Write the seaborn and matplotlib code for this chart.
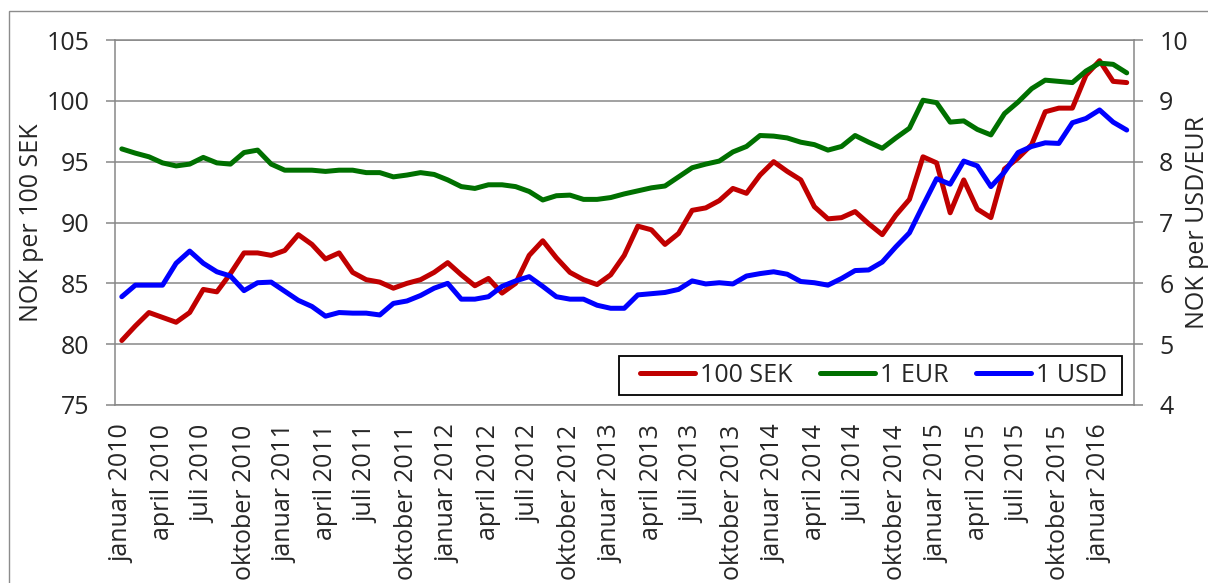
import numpy as np
import pandas as pd
import seaborn as sns
import matplotlib.pyplot as plt
from matplotlib.patches import Rectangle

# monthly data, januar 2010 - mars 2016
months = pd.date_range("2010-01-01", periods=75, freq="MS")
month_names = {1: "januar", 4: "april", 7: "juli", 10: "oktober"}

# NOK per 100 SEK (left axis)
sek = [80.3, 81.5, 82.6, 82.2, 81.8, 82.6, 84.5, 84.3, 85.8, 87.5, 87.5, 87.3,
       87.7, 89.0, 88.2, 87.0, 87.5, 85.9, 85.3, 85.1, 84.6, 85.0, 85.3, 85.9,
       86.7, 85.7, 84.8, 85.4, 84.2, 85.0, 87.3, 88.5, 87.1, 85.9, 85.3, 84.9,
       85.7, 87.3, 89.7, 89.4, 88.2, 89.1, 91.0, 91.2, 91.8, 92.8, 92.4, 93.9,
       95.0, 94.2, 93.5, 91.3, 90.3, 90.4, 90.9, 89.9, 89.0, 90.6, 91.9, 95.4,
       94.9, 90.8, 93.5, 91.1, 90.4, 94.4, 95.3, 96.4, 99.1, 99.4, 99.4, 102.1,
       103.3, 101.6, 101.5]

# NOK per EUR / USD (right axis)
eur = [8.21, 8.14, 8.08, 7.98, 7.93, 7.96, 8.07, 7.98, 7.96, 8.15, 8.19, 7.96,
       7.86, 7.86, 7.86, 7.84, 7.86, 7.86, 7.82, 7.82, 7.75, 7.78, 7.82, 7.79,
       7.70, 7.59, 7.56, 7.62, 7.62, 7.59, 7.51, 7.37, 7.44, 7.45, 7.38, 7.38,
       7.41, 7.47, 7.52, 7.57, 7.60, 7.75, 7.90, 7.96, 8.01, 8.16, 8.25, 8.43,
       8.42, 8.39, 8.32, 8.28, 8.19, 8.25, 8.43, 8.32, 8.22, 8.39, 8.55, 9.01,
       8.97, 8.65, 8.67, 8.53, 8.44, 8.79, 8.98, 9.20, 9.34, 9.32, 9.30, 9.49,
       9.62, 9.60, 9.46]

usd = [5.78, 5.97, 5.97, 5.97, 6.33, 6.53, 6.33, 6.19, 6.12, 5.88, 6.01, 6.02,
       5.87, 5.72, 5.62, 5.46, 5.52, 5.51, 5.51, 5.48, 5.67, 5.71, 5.80, 5.92,
       6.00, 5.74, 5.74, 5.78, 5.95, 6.04, 6.11, 5.95, 5.78, 5.74, 5.74, 5.64,
       5.59, 5.59, 5.81, 5.83, 5.85, 5.90, 6.04, 5.99, 6.01, 5.99, 6.12, 6.16,
       6.19, 6.15, 6.03, 6.01, 5.97, 6.08, 6.21, 6.22, 6.35, 6.60, 6.83, 7.28,
       7.72, 7.63, 8.01, 7.93, 7.59, 7.83, 8.15, 8.25, 8.31, 8.30, 8.64, 8.71,
       8.85, 8.65, 8.52]

df = pd.DataFrame({
    "pos": np.arange(len(months)) + 0.5,
    "sek": sek,
    "eur": eur,
    "usd": usd,
})

sns.set_style("white")
plt.rcParams["font.family"] = ["Open Sans", "DejaVu Sans"]

grid_col = "#878787"
fs = 18
lw = 3.6

fig = plt.figure(figsize=(12.08, 5.83), dpi=100)
ax = fig.add_axes([115 / 1208, 1 - 405 / 583, 1018.5 / 1208, 365 / 583])
ax2 = ax.twinx()

sns.lineplot(data=df, x="pos", y="sek", ax=ax, color="#C00000", lw=lw,
             label="100 SEK", legend=False, solid_capstyle="round", solid_joinstyle="round")
sns.lineplot(data=df, x="pos", y="eur", ax=ax2, color="#007000", lw=lw,
             label="1 EUR", legend=False, solid_capstyle="round", solid_joinstyle="round")
sns.lineplot(data=df, x="pos", y="usd", ax=ax2, color="#0000FF", lw=lw,
             label="1 USD", legend=False, solid_capstyle="round", solid_joinstyle="round")

ax.set_xlim(0, len(months))
ax.set_ylim(75, 105)
ax2.set_ylim(4, 10)
ax.set_yticks(np.arange(75, 106, 5))
ax2.set_yticks(np.arange(4, 11, 1))

# tick marks between quarters, labels on the month itself
quarter_idx = [i for i, m in enumerate(months) if m.month in month_names]
ax.set_xticks(list(range(0, len(months) + 1, 3)))
ax.set_xticklabels([])
ax.set_xticks([i + 0.5 for i in quarter_idx], minor=True)
ax.set_xticklabels([f"{month_names[months[i].month]} {months[i].year}" for i in quarter_idx],
                   minor=True, rotation=90)

ax.yaxis.grid(True, color=grid_col, lw=1.1)
ax.xaxis.grid(False)
ax2.grid(False)

ax.tick_params(axis="x", which="major", length=6, width=1.1, color=grid_col, direction="out")
ax.tick_params(axis="x", which="minor", length=0, pad=14, labelsize=fs)
ax.tick_params(axis="y", length=6.5, width=1.1, color=grid_col, pad=12, labelsize=fs, left=True)
ax2.tick_params(axis="y", length=6.5, width=1.1, color=grid_col, pad=12, labelsize=fs, right=True)

for a in (ax, ax2):
    for s in a.spines.values():
        s.set_color(grid_col)
        s.set_linewidth(1.1)
ax.spines["right"].set_visible(False)
ax2.spines["left"].set_visible(False)
ax2.spines["bottom"].set_visible(False)
ax2.spines["top"].set_visible(False)

ax.set_xlabel("")
ax.set_ylabel("NOK per 100 SEK", fontsize=fs)
ax.yaxis.set_label_coords(-0.0815, 0.5)
ax.yaxis.label.set_va("center")
ax2.set_ylabel("NOK per USD/EUR", fontsize=fs)
ax2.yaxis.set_label_coords(1.063, 0.5)
ax2.yaxis.label.set_va("center")

# legend
handles = ax.get_lines() + ax2.get_lines()
ax2.add_patch(Rectangle((0.4948, 0.0274), 0.4939, 0.1068, transform=ax2.transAxes,
                        facecolor="white", edgecolor="black", lw=1.3, zorder=4))
leg = ax2.legend(handles=handles, labels=[h.get_label() for h in handles], ncol=3,
                 loc="center", bbox_to_anchor=(0.7452, 0.0808), frameon=False,
                 fontsize=fs, handlelength=2.2, handletextpad=0.2, columnspacing=1.1,
                 borderpad=0, borderaxespad=0)
leg.set_zorder(5)

# chart border
fig.patches.append(Rectangle((9 / 1208, -0.1), 1.2, 1.1 - 10.7 / 583, transform=fig.transFigure,
                             fill=False, edgecolor="#8c8c8c", lw=1))

fig.savefig("out.png", dpi=100)
